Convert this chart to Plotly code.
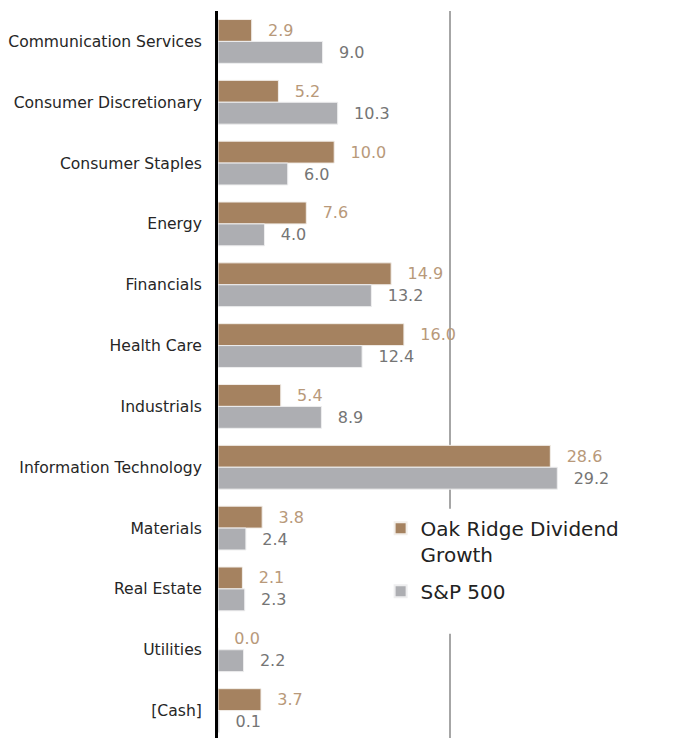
import plotly.graph_objects as go

categories = ["Communication Services", "Consumer Discretionary", "Consumer Staples", "Energy",
              "Financials", "Health Care", "Industrials", "Information Technology",
              "Materials", "Real Estate", "Utilities", "[Cash]"]
oak_ridge = [2.9, 5.2, 10.0, 7.6, 14.9, 16.0, 5.4, 28.6, 3.8, 2.1, 0.0, 3.7]
sp500 = [9.0, 10.3, 6.0, 4.0, 13.2, 12.4, 8.9, 29.2, 2.4, 2.3, 2.2, 0.1]

FONT = "DejaVu Sans"
BROWN = "#A58260"
GRAY = "#ADAEB2"

fig = go.Figure()
fig.add_trace(go.Bar(
    y=categories, x=oak_ridge, orientation="h", name="Oak Ridge Dividend<br>Growth",
    legendgroup="oak",
    marker=dict(color=BROWN, line=dict(color="#F2EEE9", width=1)),
    text=[f"{v:.1f}" for v in oak_ridge], texttemplate="  \u2009%{text}", textposition="outside",
    textfont=dict(family=FONT, size=16, color="#B8997A"), cliponaxis=False,
))
fig.add_trace(go.Bar(
    y=categories, x=sp500, orientation="h", name="S&P 500",
    legendgroup="sp",
    marker=dict(color=GRAY, line=dict(color="#EEEEEF", width=1)),
    text=[f"{v:.1f}" for v in sp500], texttemplate="  \u2009%{text}", textposition="outside",
    textfont=dict(family=FONT, size=16, color="#757575"), cliponaxis=False,
))

# white panel behind the legend (hides the gridline there, as in the original)
fig.add_shape(type="rect", xref="paper", yref="paper", x0=0.36, x1=0.95, y0=0.147, y1=0.318,
              fillcolor="white", line=dict(width=0), layer="above")

fig.update_layout(
    width=680, height=738,
    margin=dict(l=210, r=8, t=3, b=5),
    paper_bgcolor="white", plot_bgcolor="white",
    barmode="group", bargap=0.28, bargroupgap=0,
    font=dict(family=FONT, size=15.6, color="#262626"),
    showlegend=True,
    legend=dict(x=0.352, y=0.318, xanchor="left", yanchor="top", bgcolor="white",
                font=dict(family=FONT, size=20, color="#222222"),
                traceorder="grouped", valign="top", itemsizing="constant",
                tracegroupgap=8),
    xaxis=dict(range=[0, 39.76], dtick=20, showgrid=True, gridcolor="#A6A6A6", gridwidth=2,
               showticklabels=False, zeroline=False, showline=False, ticks="", automargin=False),
    yaxis=dict(categoryorder="array", categoryarray=categories, autorange="reversed",
               showline=True, linecolor="black", linewidth=3, ticks="", automargin=False,
               ticklabelstandoff=10, tickfont=dict(family=FONT, size=15.6, color="#262626")),
)

fig.write_html("out.html")
